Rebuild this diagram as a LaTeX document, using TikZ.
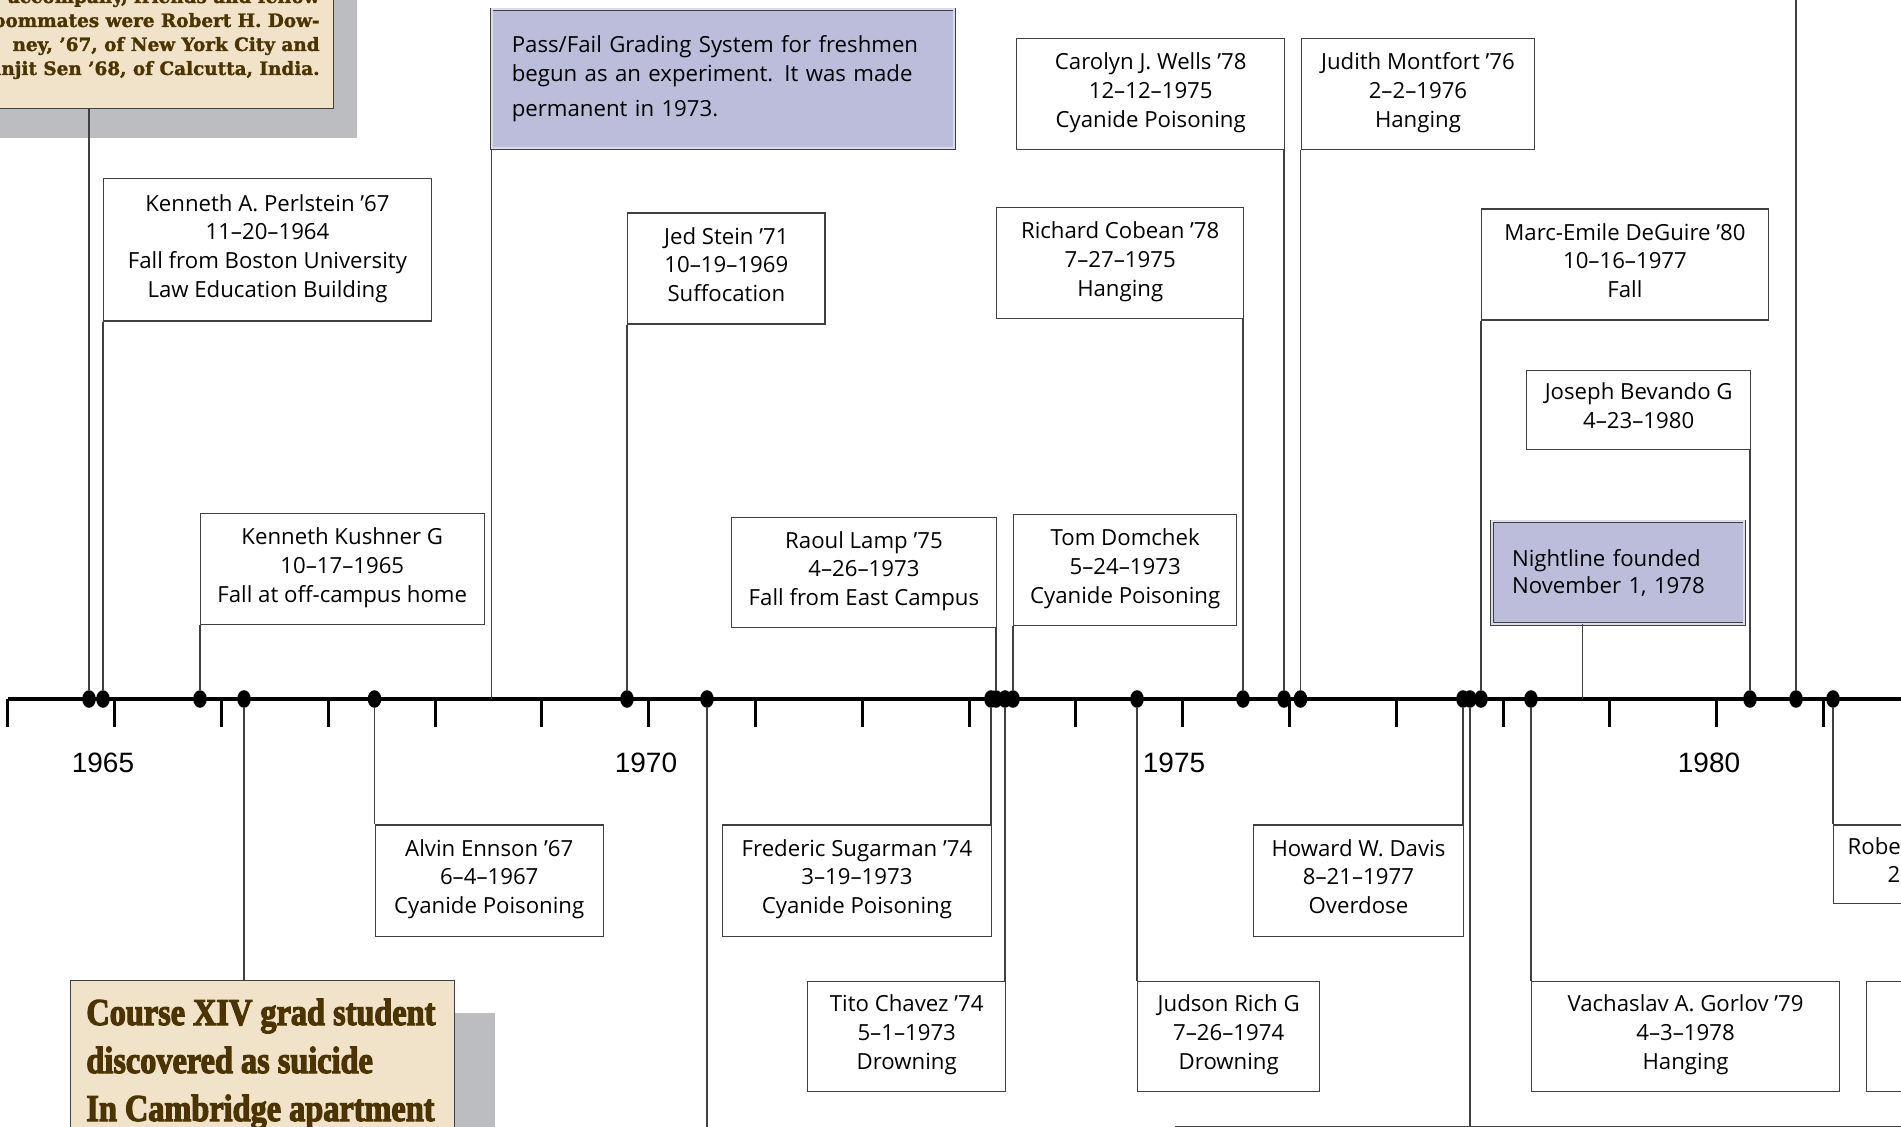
\documentclass[tikz,border=0pt]{standalone}
\usepackage{fontspec}
\setmainfont{Open Sans}
\newfontfamily\yearfont{Liberation Sans}
\newfontfamily\headfont[FakeBold=3,FakeStretch=0.85]{Liberation Serif}
\newfontfamily\clipfont[FakeBold=1.5]{DejaVu Serif}
\usetikzlibrary{shapes.geometric,positioning}
\pgfdeclarelayer{background}
\pgfsetlayers{background,main}
\definecolor{clipbg}{RGB}{241,227,201}
\definecolor{clipink}{RGB}{75,52,0}
\definecolor{shadowgray}{RGB}{188,189,192}
\definecolor{lav}{RGB}{187,189,218}
\definecolor{edge}{RGB}{64,64,64}

\begin{document}
\begin{tikzpicture}[x=0.5pt,y=-0.5pt,
  evt/.style={draw=edge,line width=0.7pt,fill=white,anchor=north west,inner sep=0pt,align=center,
              font=\fontsize{11.1}{14.35}\selectfont,execute at begin node={\strut},execute at end node={\strut}},
  note/.style={draw=edge,line width=0.35pt,double=lav!55,double distance=0.9pt,fill=lav,anchor=north west,
               inner xsep=10pt,inner ysep=0pt,align=left,font=\fontsize{11.1}{14.5}\selectfont},
  clipbox/.style={draw=edge,line width=0.7pt,fill=clipbg,inner sep=0pt},
  cliptxt/.style={text=clipink,inner sep=0pt,anchor=base east,font=\clipfont\bfseries\fontsize{9.2}{12}\selectfont},
  headtxt/.style={text=clipink,inner sep=0pt,anchor=base west,font=\headfont\bfseries\fontsize{19}{24}\selectfont},
  evdot/.style={ellipse,fill=black,inner sep=0pt,minimum width=6.8pt,minimum height=8.8pt},
  conn/.style={draw=edge,line width=0.7pt},
  yearlbl/.style={font=\yearfont\fontsize{14}{14}\selectfont,inner sep=0pt}]

\useasboundingbox (0,0) rectangle (1901,1127);
\clip (0,0) rectangle (1901,1127);

% newspaper clippings
\node[clipbox,anchor=south east,minimum width=217pt,minimum height=100pt] (clipa) at (334,109) {};
\foreach \txt [count=\i] in {{accompany, friends and fellow},roommates were Robert H. Dow-,{ney, ’67, of New York City and},{Ranjit Sen ’68, of Calcutta, India.}}
  \node[cliptxt] (clipa\i) at (320,{-21+24*\i}) {\txt};
\node[clipbox,anchor=north west,minimum width=192pt,minimum height=100pt] (course) at (70,980) {};
\foreach \txt [count=\i] in {Course XIV grad student,discovered as suicide,In Cambridge apartment}
  \node[headtxt] (course\i) at (86,{977+48*\i}) {\txt};
\begin{pgfonlayer}{background}
  \fill[white] (0,0) rectangle (1901,1127);
  \fill[shadowgray] ([shift={(23,29)}]clipa.south west) rectangle ([shift={(23,29)}]clipa.north east);
  \fill[shadowgray] ([shift={(40,33)}]course.south west) rectangle ([shift={(40,33)}]course.north east);
\end{pgfonlayer}

% time axis
\draw[line width=1.75pt] (8,699) -- (1910,699);
\foreach \yr in {1964,...,1981}
  \draw[line width=1.5pt] ({648.7+(\yr-1970)*106.8},699) --++(0,28);
\foreach \lx/\yr in {103/1965,646/1970,1174/1975,1709/1980}
  \node[yearlbl] (yr\yr) at (\lx,763) {\yr};

% events above the axis
\node[evt,minimum width=163.75pt,minimum height=71.25pt] (perl) at (103,178) {Kenneth A. Perlstein ’67\\11–20–1964\\Fall from Boston University\\Law Education Building};
\node[evt,minimum width=141.95pt,minimum height=55.5pt] (kush) at (199.6,513) {Kenneth Kushner G\\10–17–1965\\Fall at off-campus home};
\node[note,minimum height=69.5pt,text width=211.25pt] (pass) at (491.5,9) {Pass/Fail Grading System for freshmen\\begun as an experiment. It was made\\[3pt]permanent in 1973.};
\node[evt,minimum width=98.65pt,minimum height=55.5pt] (jed) at (627,212.5) {Jed Stein ’71\\10–19–1969\\Suffocation};
\node[evt,minimum width=132.75pt,minimum height=55pt] (raoul) at (730.5,517) {Raoul Lamp ’75\\4–26–1973\\Fall from East Campus};
\node[evt,minimum width=111.5pt,minimum height=55.5pt] (tom) at (1013,514) {Tom Domchek\\5–24–1973\\Cyanide Poisoning};
\node[evt,minimum width=134pt,minimum height=55.5pt] (wells) at (1016,38) {Carolyn J. Wells ’78\\12–12–1975\\Cyanide Poisoning};
\node[evt,minimum width=116.75pt,minimum height=55.5pt] (mont) at (1300.5,38) {Judith Montfort ’76\\2–2–1976\\Hanging};
\node[evt,minimum width=123.5pt,minimum height=55.5pt] (cob) at (996,207) {Richard Cobean ’78\\7–27–1975\\Hanging};
\node[evt,minimum width=143.25pt,minimum height=55.5pt] (deg) at (1481,208.5) {Marc-Emile DeGuire ’80\\10–16–1977\\Fall};
\node[evt,minimum width=112pt,minimum height=39.3pt] (bev) at (1526,370) {Joseph Bevando G\\4–23–1980};
\node[note,minimum height=51.3pt,text width=106.15pt,font=\fontsize{11.1}{13.5}\selectfont] (night) at (1491.7,521) {Nightline founded\\November 1, 1978};

% events below the axis
\node[evt,minimum width=114pt,minimum height=55.5pt] (enn) at (374.5,824.5) {Alvin Ennson ’67\\6–4–1967\\Cyanide Poisoning};
\node[evt,minimum width=134.75pt,minimum height=55.5pt] (sug) at (721.5,824.5) {Frederic Sugarman ’74\\3–19–1973\\Cyanide Poisoning};
\node[evt,minimum width=99pt,minimum height=55.25pt] (tito) at (807,980.5) {Tito Chavez ’74\\5–1–1973\\Drowning};
\node[evt,minimum width=91pt,minimum height=55.25pt] (jud) at (1137,980.5) {Judson Rich G\\7–26–1974\\Drowning};
\node[evt,minimum width=105.25pt,minimum height=55.5pt] (davis) at (1252.5,824.5) {Howard W. Davis\\8–21–1977\\Overdose};
\node[evt,minimum width=153.85pt,minimum height=55.25pt] (gor) at (1531,980.5) {Vachaslav A. Gorlov ’79\\4–3–1978\\Hanging};
\node[evt,minimum width=99pt,minimum height=39.25pt] (rob) at (1833,824.5) {\makebox[85pt][l]{Robert}\\\makebox[45pt][l]{2–}};
\node[evt,minimum width=125pt,minimum height=55.25pt] (rbox) at (1866,980.5) {};
\node[evt,minimum width=400pt,minimum height=100pt] (low) at (1175,1126) {};

% dates on the axis
\foreach \nm/\dx in {clipa/89,perl/103,kush/200,course/244,enn/374.5,jed/627,x70/707,sug/991,raoul/996,tito/1005,
                     tom/1013,jud/1137,cob/1243,wells/1284,mont/1300.5,davis/1463,low/1470,deg/1481,gor/1531,
                     bev/1750,top/1796,rob/1833}
  \node[evdot] (d\nm) at (\dx,699) {};

% connectors
\foreach \nm in {clipa,perl,kush,jed,raoul,tom,cob,wells,mont,deg,bev}
  \draw[conn] (d\nm.north) -- (d\nm.north |- \nm.south);
\foreach \nm in {course,enn,sug,tito,jud,davis,low,gor,rob}
  \draw[conn] (d\nm.south) -- (d\nm.south |- \nm.north);
\coordinate (pfend) at (491.5,699);
\coordinate (nlend) at (1582.7,699);
\coordinate (topend) at (1796,-5);
\coordinate (botend) at (707,1135);
\draw[conn] (pass.south west) -- (pfend);
\draw[conn] (nlend) -- (nlend |- night.south);
\draw[conn] (dtop.north) -- (topend);
\draw[conn] (dx70.south) -- (botend);
\end{tikzpicture}
\end{document}
